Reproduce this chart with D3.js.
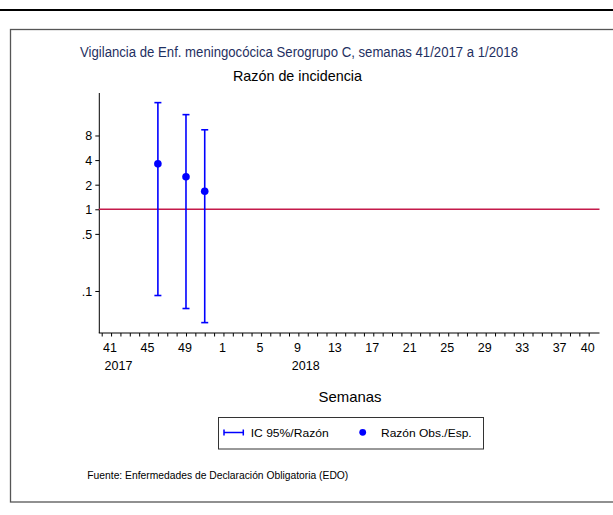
<!DOCTYPE html>
<html><head><meta charset="utf-8">
<script src="https://cdn.jsdelivr.net/npm/d3@7"></script>
<style>body{margin:0;background:#fff;}svg{display:block;font-family:"Liberation Sans",Arial,sans-serif;}</style>
</head><body>
<svg id="c" width="613" height="515"></svg>
<script>
// ---- data ----
const titleText = "Vigilancia de Enf. meningocócica Serogrupo C, semanas 41/2017 a 1/2018";
const subtitleText = "Razón de incidencia";
const xTitle = "Semanas";
const sourceText = "Fuente: Enfermedades de Declaración Obligatoria (EDO)";
const legendLabels = ["IC 95%/Razón", "Razón Obs./Esp."];
const yTickValues = [0.1, 0.5, 1, 2, 4, 8];
const yTickLabels = [".1", ".5", "1", "2", "4", "8"];
const xTickWeeks = ["41/2017","45/2017","49/2017","1/2018","5/2018","9/2018","13/2018","17/2018","21/2018","25/2018","29/2018","33/2018","37/2018","40/2018"];
const xTickLabels = ["41","45","49","1","5","9","13","17","21","25","29","33","37","40"];
const yearLabelWeeks = ["41/2017","9/2018"];
const yearLabels = ["2017","2018"];
const pointWeeks = ["46/2017","49/2017","51/2017"];
const ratio = [3.6, 2.5, 1.66];
const ciLow = [0.088, 0.061, 0.041];
const ciHigh = [20.2, 14.4, 9.4];
const refValue = 1;

// week sequence 40/2017 .. 40/2018 (axis domain)
const weekSeq = [];
for (let w = 40; w <= 52; w++) weekSeq.push(w + "/2017");
for (let w = 1; w <= 40; w++) weekSeq.push(w + "/2018");
const idx = k => weekSeq.indexOf(k);

const svg = d3.select("#c");
const blue = "#0000ff";

// frame
svg.append("line").attr("x1",0).attr("x2",613).attr("y1",10).attr("y2",10).attr("stroke","#000").attr("stroke-width",2);
svg.append("rect").attr("x",10.5).attr("y",29.5).attr("width",620).attr("height",472.5).attr("fill","none").attr("stroke","#555").attr("stroke-width",1.3);

// scales
const x = d3.scaleLinear().domain([0, 52]).range([101.7, 588.7]);
const xLeft = 98.8, xRight = 599.5;
const y = d3.scaleLog().domain([0.0306, 26.5]).range([333, 93]);

function fit(sel, target) {
  let fs = parseFloat(sel.attr("font-size"));
  const w = sel.node().getComputedTextLength();
  if (w > 0) sel.attr("font-size", (fs * target / w).toFixed(2));
  return sel;
}
function squeeze(sel, target) {
  return sel.attr("textLength", target).attr("lengthAdjust", "spacingAndGlyphs");
}

// titles
squeeze(svg.append("text").attr("x",299).attr("y",57.3).attr("text-anchor","middle").attr("font-size",15.2).attr("fill","#1f3062").text(titleText), 438);
squeeze(svg.append("text").attr("x",297.5).attr("y",81).attr("text-anchor","middle").attr("font-size",15).attr("fill","#000").text(subtitleText), 129);

// y axis
const yAxis = d3.axisLeft(y).tickValues(yTickValues).tickFormat((d,i)=>yTickLabels[i]).tickSize(4).tickPadding(3).tickSizeOuter(0);
const gy = svg.append("g").attr("transform","translate(99.3,0)").call(yAxis);
gy.select(".domain").remove();
gy.append("line").attr("x1",0).attr("x2",0).attr("y1",93).attr("y2",333).attr("stroke","#000");
gy.selectAll("text").attr("font-size",12.5).attr("fill","#000").attr("font-family","Liberation Sans, Arial, sans-serif").attr("dy","0.36em");

// x axis
const xAxis = d3.axisBottom(x).tickValues(d3.range(0,53)).tickFormat(()=>"").tickSize(3.5).tickSizeOuter(0);
const gx = svg.append("g").attr("transform","translate(0,333)").call(xAxis);
gx.select(".domain").remove();
gx.append("line").attr("x1",xLeft).attr("x2",xRight).attr("y1",0).attr("y2",0).attr("stroke","#000");
svg.append("g").selectAll("text").data(xTickWeeks).join("text")
  .attr("x",d=>x(idx(d))-1).attr("y",351.7).attr("text-anchor","middle").attr("font-size",12.5).attr("fill","#000")
  .text((d,i)=>xTickLabels[i]);
svg.append("g").selectAll("text").data(yearLabelWeeks).join("text")
  .attr("x",d=>x(idx(d))-6.5).attr("y",370).attr("text-anchor","start").attr("font-size",12.5).attr("fill","#000")
  .text((d,i)=>yearLabels[i]);

// reference line
svg.append("line").attr("x1",xLeft).attr("x2",xRight).attr("y1",y(refValue)).attr("y2",y(refValue)).attr("stroke","#c41a4a").attr("stroke-width",1.5);

// error bars
const eb = svg.append("g").attr("stroke",blue).attr("stroke-width",1.6);
pointWeeks.forEach((wk,i)=>{
  const cx = x(idx(wk));
  eb.append("line").attr("x1",cx).attr("x2",cx).attr("y1",y(ciHigh[i])).attr("y2",y(ciLow[i]));
  eb.append("line").attr("x1",cx-3.5).attr("x2",cx+3.5).attr("y1",y(ciHigh[i])).attr("y2",y(ciHigh[i]));
  eb.append("line").attr("x1",cx-3.5).attr("x2",cx+3.5).attr("y1",y(ciLow[i])).attr("y2",y(ciLow[i]));
});
svg.append("g").selectAll("circle").data(pointWeeks).join("circle")
  .attr("cx",d=>x(idx(d))).attr("cy",(d,i)=>y(ratio[i])).attr("r",3.8).attr("fill",blue);

// x title
squeeze(svg.append("text").attr("x",350).attr("y",401.7).attr("text-anchor","middle").attr("font-size",15).attr("fill","#000").text(xTitle), 63);

// legend
svg.append("rect").attr("x",218.5).attr("y",417.5).attr("width",265).attr("height",31.5).attr("fill","#fff").attr("stroke","#333").attr("stroke-width",1);
const lg = svg.append("g").attr("stroke",blue).attr("stroke-width",1.5);
lg.append("line").attr("x1",224).attr("x2",243.3).attr("y1",432.5).attr("y2",432.5);
lg.append("line").attr("x1",224).attr("x2",224).attr("y1",429.5).attr("y2",435.5);
lg.append("line").attr("x1",243.3).attr("x2",243.3).attr("y1",429.5).attr("y2",435.5);
svg.append("circle").attr("cx",362.7).attr("cy",432.3).attr("r",3.4).attr("fill",blue);
squeeze(svg.append("text").attr("x",250.7).attr("y",436.5).attr("font-size",11.5).attr("fill","#000").text(legendLabels[0]), 78);
squeeze(svg.append("text").attr("x",381).attr("y",436.5).attr("font-size",11.5).attr("fill","#000").text(legendLabels[1]), 90.7);

// source
squeeze(svg.append("text").attr("x",87.3).attr("y",479.3).attr("font-size",11).attr("fill","#000").text(sourceText), 261);
</script>
</body></html>
